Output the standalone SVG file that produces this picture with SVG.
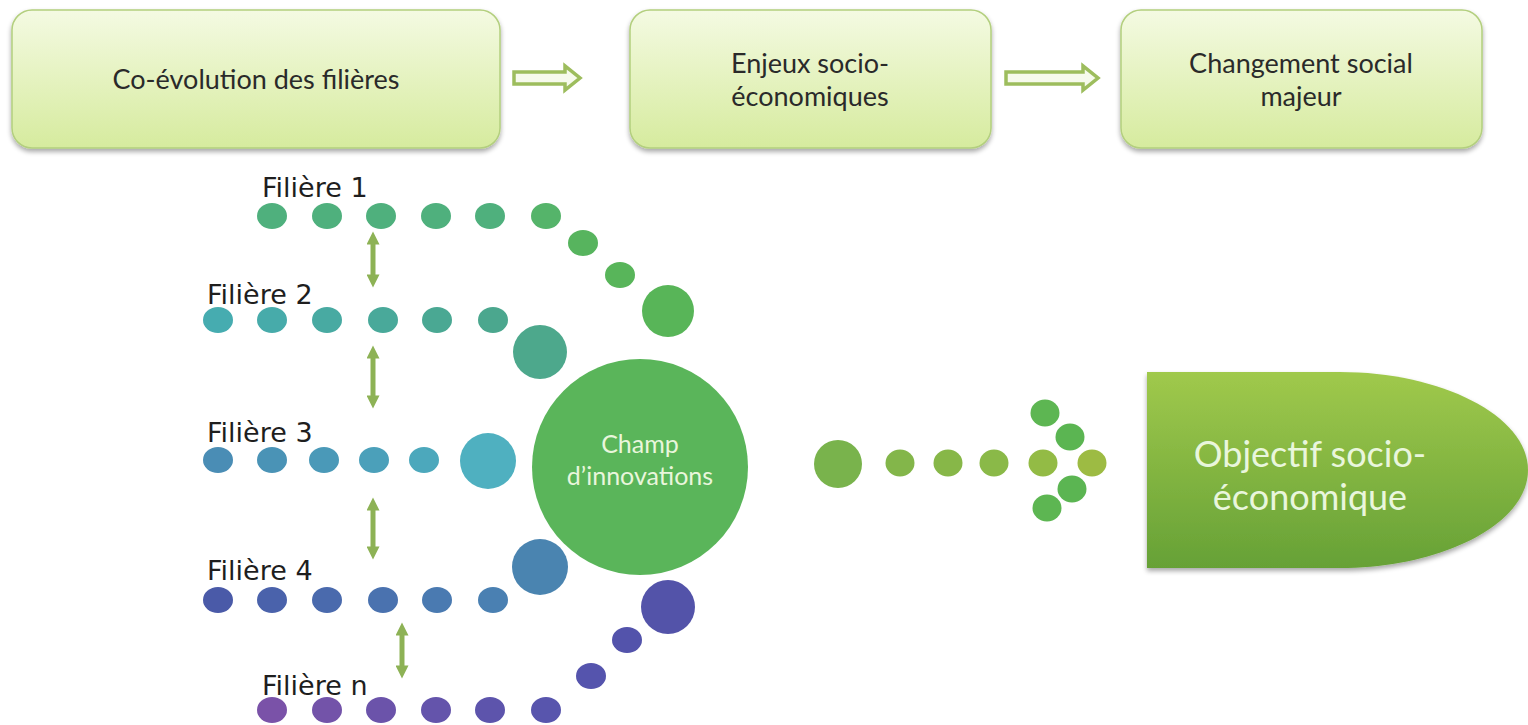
<svg xmlns="http://www.w3.org/2000/svg" width="1528" height="725" viewBox="0 0 1528 725">
<defs>
<linearGradient id="boxg" x1="0" y1="0" x2="0" y2="1">
<stop offset="0" stop-color="#f4fae2"/>
<stop offset="1" stop-color="#d6eb9e"/>
</linearGradient>
<linearGradient id="objg" x1="0" y1="0" x2="0" y2="1">
<stop offset="0" stop-color="#a0c94c"/>
<stop offset="1" stop-color="#66a136"/>
</linearGradient>
<filter id="sh" x="-10%" y="-10%" width="120%" height="130%">
<feGaussianBlur in="SourceAlpha" stdDeviation="2.5"/>
<feOffset dx="0" dy="3"/>
<feComponentTransfer><feFuncA type="linear" slope="0.35"/></feComponentTransfer>
<feMerge><feMergeNode/><feMergeNode in="SourceGraphic"/></feMerge>
</filter>
<marker id="ah" viewBox="0 0 10 10" refX="5" refY="5" markerWidth="3" markerHeight="2.6" orient="auto-start-reverse">
<path d="M0,0 L10,5 L0,10 Z" fill="#8db255"/>
</marker>
</defs>
<style>
.box{fill:url(#boxg);stroke:#b3cf7e;stroke-width:1.5;filter:url(#sh)}
.bt{font-family:Lato,"Open Sans",sans-serif;font-size:27px;fill:#2a2a2a;text-anchor:middle}
.lab{font-family:"DejaVu Sans",Verdana,sans-serif;font-size:27px;fill:#1e1e1e}
.hol{fill:#f6faec;stroke:#9dbd5d;stroke-width:3.5;stroke-linejoin:miter}
.dbl{stroke:#8db255;stroke-width:5;fill:none;marker-start:url(#ah);marker-end:url(#ah)}
.r1{fill:#4fb07d}.r2{fill:#48aa9c}.r3{fill:#4b92b3}.r4{fill:#4a68ad}.rn{fill:#6e55a9}
.wt{font-family:Lato,"Open Sans",sans-serif;fill:#e9f6dc;text-anchor:middle}
</style>

<g id="box-coevolution">
<rect class="box" x="12" y="10" width="488" height="138" rx="20"/>
<text class="bt" x="256" y="89">Co-évolution des filières</text>
</g>
<g id="box-enjeux">
<rect class="box" x="630" y="10" width="361" height="138" rx="20"/>
<text class="bt" x="810" y="73">Enjeux socio-</text>
<text class="bt" x="810" y="106">économiques</text>
</g>
<g id="box-changement">
<rect class="box" x="1121" y="10" width="361" height="138" rx="20"/>
<text class="bt" x="1301" y="73">Changement social</text>
<text class="bt" x="1301" y="106">majeur</text>
</g>

<g id="connectors">
<path class="hol" d="M514,72 L565,72 L565,66 L580,78 L565,90 L565,84 L514,84 Z"/>
<path class="hol" d="M1006,72 L1083,72 L1083,66 L1098,78 L1083,90 L1083,84 L1006,84 Z"/>
<line class="dbl" x1="373" y1="238" x2="373" y2="281"/>
<line class="dbl" x1="373" y1="352" x2="373" y2="402"/>
<line class="dbl" x1="373" y1="504" x2="373" y2="553"/>
<line class="dbl" x1="402" y1="629" x2="402" y2="672"/>
</g>

<g id="filiere-1">
<text class="lab" x="262" y="197">Filière 1</text>
<g class="r1">
<ellipse cx="272" cy="216" rx="15" ry="13"/>
<ellipse cx="327" cy="216" rx="15" ry="13"/>
<ellipse cx="381" cy="216" rx="15" ry="13"/>
<ellipse cx="436" cy="216" rx="15" ry="13"/>
<ellipse cx="490" cy="216" rx="15" ry="13"/>
<ellipse cx="546" cy="216" rx="15" ry="13" fill="#55b46a"/>
<ellipse cx="583" cy="243" rx="15" ry="13" fill="#57b45e"/>
<ellipse cx="620" cy="275" rx="15" ry="13" fill="#58b55a"/>
<circle cx="668" cy="311" r="26" fill="#58b558"/>
</g>
</g>

<g id="filiere-2">
<text class="lab" x="207" y="304">Filière 2</text>
<g class="r2">
<ellipse cx="218" cy="320" rx="15" ry="13" fill="#46acb0"/>
<ellipse cx="272" cy="320" rx="15" ry="13" fill="#47abaa"/>
<ellipse cx="327" cy="320" rx="15" ry="13" fill="#48aaa2"/>
<ellipse cx="383" cy="320" rx="15" ry="13" fill="#49a99a"/>
<ellipse cx="437" cy="320" rx="15" ry="13" fill="#4aa893"/>
<ellipse cx="493" cy="320" rx="15" ry="13" fill="#4ba78e"/>
<circle cx="540" cy="352" r="27" fill="#4da88c"/>
</g>
</g>

<g id="filiere-3">
<text class="lab" x="207" y="442">Filière 3</text>
<g class="r3">
<ellipse cx="218" cy="460" rx="15" ry="13" fill="#4a8db5"/>
<ellipse cx="272" cy="460" rx="15" ry="13" fill="#4a93b6"/>
<ellipse cx="324" cy="460" rx="15" ry="13" fill="#4a99b8"/>
<ellipse cx="374" cy="460" rx="15" ry="13" fill="#4ba0ba"/>
<ellipse cx="424" cy="460" rx="15" ry="13" fill="#4ca8bc"/>
<circle cx="488" cy="461" r="28" fill="#4fb0c0"/>
</g>
</g>

<g id="filiere-4">
<text class="lab" x="207" y="580">Filière 4</text>
<g class="r4">
<ellipse cx="218" cy="600" rx="15" ry="13" fill="#4a5aa8"/>
<ellipse cx="272" cy="600" rx="15" ry="13" fill="#4a62ab"/>
<ellipse cx="327" cy="600" rx="15" ry="13" fill="#4a6aad"/>
<ellipse cx="383" cy="600" rx="15" ry="13" fill="#4a72af"/>
<ellipse cx="437" cy="600" rx="15" ry="13" fill="#4a7ab1"/>
<ellipse cx="493" cy="600" rx="15" ry="13" fill="#4a80b2"/>
<circle cx="540" cy="567" r="28" fill="#4a84b0"/>
</g>
</g>

<g id="filiere-n">
<text class="lab" x="262" y="695">Filière n</text>
<g class="rn">
<ellipse cx="272" cy="710" rx="15" ry="13" fill="#7a52a8"/>
<ellipse cx="327" cy="710" rx="15" ry="13" fill="#7353a9"/>
<ellipse cx="381" cy="710" rx="15" ry="13" fill="#6b53aa"/>
<ellipse cx="436" cy="710" rx="15" ry="13" fill="#6454ab"/>
<ellipse cx="490" cy="710" rx="15" ry="13" fill="#5d54ac"/>
<ellipse cx="546" cy="710" rx="15" ry="13" fill="#5855ad"/>
<ellipse cx="591" cy="676" rx="15" ry="13" fill="#5554ad"/>
<ellipse cx="627" cy="640" rx="15" ry="13" fill="#5353ab"/>
<circle cx="668" cy="607" r="27" fill="#5353a9"/>
</g>
</g>

<g id="champ-innovations">
<circle cx="640" cy="467" r="108" fill="#5ab55a"/>
<text class="wt" x="640" y="453" font-size="25">Champ</text>
<text class="wt" x="640" y="485" font-size="25">d’innovations</text>
</g>

<g id="dots-arrow">
<circle cx="838" cy="464" r="24" fill="#79b34c"/>
<ellipse cx="900" cy="463" rx="14.5" ry="13.5" fill="#83b64a"/>
<ellipse cx="948" cy="463" rx="14.5" ry="13.5" fill="#87b748"/>
<ellipse cx="994" cy="463" rx="14.5" ry="13.5" fill="#8ab948"/>
<ellipse cx="1043" cy="463" rx="14.5" ry="13.5" fill="#93bb45"/>
<ellipse cx="1092" cy="463" rx="14.5" ry="13.5" fill="#9dbb43"/>
<ellipse cx="1045" cy="413" rx="14.5" ry="13.5" fill="#5db652"/>
<ellipse cx="1070" cy="437" rx="14.5" ry="13.5" fill="#5bb552"/>
<ellipse cx="1072" cy="489" rx="14.5" ry="13.5" fill="#5bb552"/>
<ellipse cx="1047" cy="508" rx="14.5" ry="13.5" fill="#5db652"/>
</g>

<g id="objectif">
<path d="M1147,372 L1340,372 C1440,372 1528,415 1528,470 C1528,525 1440,568 1340,568 L1147,568 Z" fill="url(#objg)" filter="url(#sh)"/>
<text class="wt" x="1310" y="467" font-size="36" fill="#f3f9e8">Objectif socio-</text>
<text class="wt" x="1310" y="510" font-size="36" fill="#f3f9e8">économique</text>
</g>
</svg>
